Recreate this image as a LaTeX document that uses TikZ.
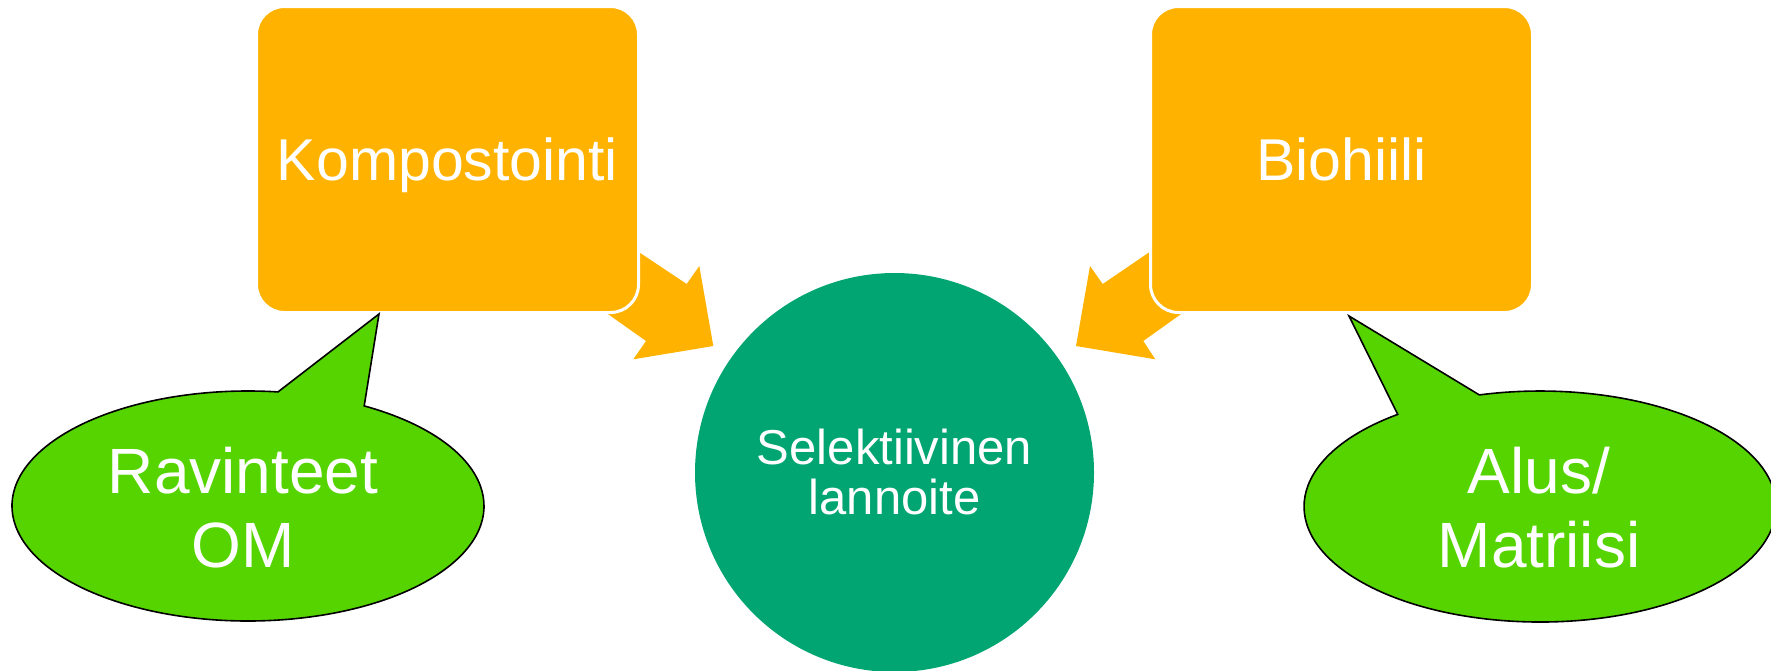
\documentclass[tikz,border=0pt]{standalone}
\usepackage{fontspec}
\setmainfont{Liberation Sans}
\definecolor{boxorange}{RGB}{255,179,0}
\definecolor{circteal}{RGB}{1,165,114}
\definecolor{calloutgreen}{RGB}{85,212,0}
\tikzset{
  procbox/.style={draw=white, line width=1.5pt, fill=boxorange, rounded corners=14pt,
    minimum width=191pt, minimum height=153pt, inner sep=0pt,
    text=white, font=\fontsize{29.5}{36}\selectfont, text height=21.2pt, text depth=0pt},
  blockarrow/.style={fill=boxorange, draw=none},
  callout/.style={fill=calloutgreen, draw=black, line width=0.8pt, line join=miter},
  callouttext/.style={text=white, align=center, inner sep=0pt, font=\fontsize{32}{37}\selectfont},
  hub/.style={circle, fill=circteal, minimum size=199.5pt, inner sep=0pt},
  hubtext/.style={text=white, align=center, inner sep=0pt, font=\fontsize{24.5}{25}\selectfont}
}
\begin{document}
\begin{tikzpicture}[x=0.5pt, y=-0.5pt]
\useasboundingbox (0,0) rectangle (1771,670);
% central circle
\node[hub] (hub) at (894.5,472.5) {};
\node[hubtext] (hubtxt) at (894.5,471.5) {Selektiivinen\\lannoite};
% block arrows (tails hidden under boxes)
\fill[blockarrow] (584,214) -- (641.7,254) -- (686.7,284) -- (699.3,266) -- (713.3,346)
  -- (633.3,359.3) -- (646,341) -- (610.7,316) -- (553,276) -- cycle;
\fill[blockarrow] (1205,214) -- (1146.7,254) -- (1102.7,284) -- (1090,266) -- (1076,346)
  -- (1155.3,359.3) -- (1143.3,341) -- (1178.3,316) -- (1236,276) -- cycle;
% boxes
\node[procbox] (komp) at (447.5,159.5) {Kompostointi};
\node[procbox] (bio) at (1341.5,159.5) {Biohiili};
% left callout
\draw[callout] (278,391.9) -- (379,314) -- (364.2,405.9)
  arc[start angle=-60.5, end angle=277.3, x radius=236, y radius=115] -- cycle;
\node[callouttext] (rav) at (243,508) {Ravinteet\\OM};
% right callout
\draw[callout] (1479.3,394.9) -- (1349,316) -- (1397.7,414.4)
  arc[start angle=-127.1, end angle=-464.9, x radius=236, y radius=115.5] -- cycle;
\node[callouttext] (alus) at (1539,508) {Alus/\\Matriisi};
\end{tikzpicture}
\end{document}
